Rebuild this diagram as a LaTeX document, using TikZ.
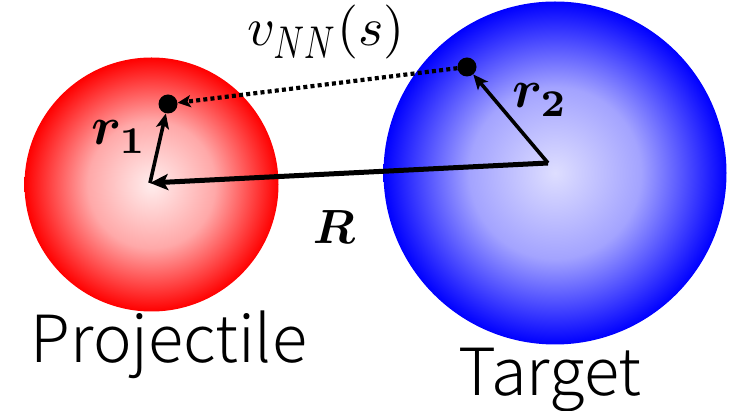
\documentclass[tikz,border=0pt]{standalone}
\usepackage{graphicx}
\usepackage{bm}
\usepackage{fontspec}
\newfontfamily\jp{Noto Sans CJK JP}[UprightFont=* Light]
\usetikzlibrary{arrows.meta}
\pgfdeclareradialshading{redball}{\pgfpoint{0bp}{0bp}}{color(0bp)=(red!7);color(12.5bp)=(red!34);color(25bp)=(red);color(50bp)=(red)}
\pgfdeclareradialshading{blueball}{\pgfpoint{0bp}{0bp}}{color(0bp)=(blue!13);color(12.5bp)=(blue!36);color(25bp)=(blue);color(50bp)=(blue)}
\begin{document}
\begin{tikzpicture}[x=1pt,y=-1pt,
  ballnode/.style={circle, inner sep=0pt, shade},
  dotnode/.style={circle, fill=black, inner sep=0pt, minimum size=19pt},
  vec/.style={line width=3.6pt, -{Stealth[length=15pt,width=13pt,inset=3.5pt]}},
  bigvec/.style={line width=5pt, -{Stealth[length=18pt,width=16pt,inset=4pt]}},
  link/.style={line width=4.2pt, dash pattern=on 4pt off 3.2pt, -{Stealth[length=13pt,width=12pt,inset=3pt]}},
  mathlbl/.style={inner sep=0pt},
  namelbl/.style={font=\jp\fontsize{65}{72}\selectfont, anchor=base, inner sep=0pt}]
\useasboundingbox (0,0) rectangle (740,411);
\node[ballnode, shading=redball, minimum size=254pt] (P) at (151.5,184.5) {};
\node[ballnode, shading=blueball, minimum size=343pt] (T) at (555,173) {};
\coordinate (c1) at (150,183);
\coordinate (c2) at (548,163);
\node[dotnode] (d1) at (168,104) {};
\node[dotnode] (d2) at (467,67) {};
\draw[bigvec] (c2) -- (c1);
\draw[vec] (c1) -- (d1);
\draw[vec] (c2) -- (d2);
\draw[link] (d2) -- (d1);
\node[mathlbl] (lv) at (326,32) {\scalebox{5.4}{$v_{\scalebox{0.62}[0.85]{$NN$}}(s)$}};
\node[mathlbl] (lr1) at (119,137) {\scalebox{5.4}{$\bm{r}_{\bm{1}}$}};
\node[mathlbl] (lr2) at (540,100) {\scalebox{5.4}{$\bm{r}_{\bm{2}}$}};
\node[mathlbl] (lR) at (334,227) {\scalebox{4.8}{$\bm{R}$}};
\node[namelbl] (nP) at (169,363) {Projectile};
\node[namelbl] (nT) at (550,396) {Target};
\end{tikzpicture}
\end{document}
